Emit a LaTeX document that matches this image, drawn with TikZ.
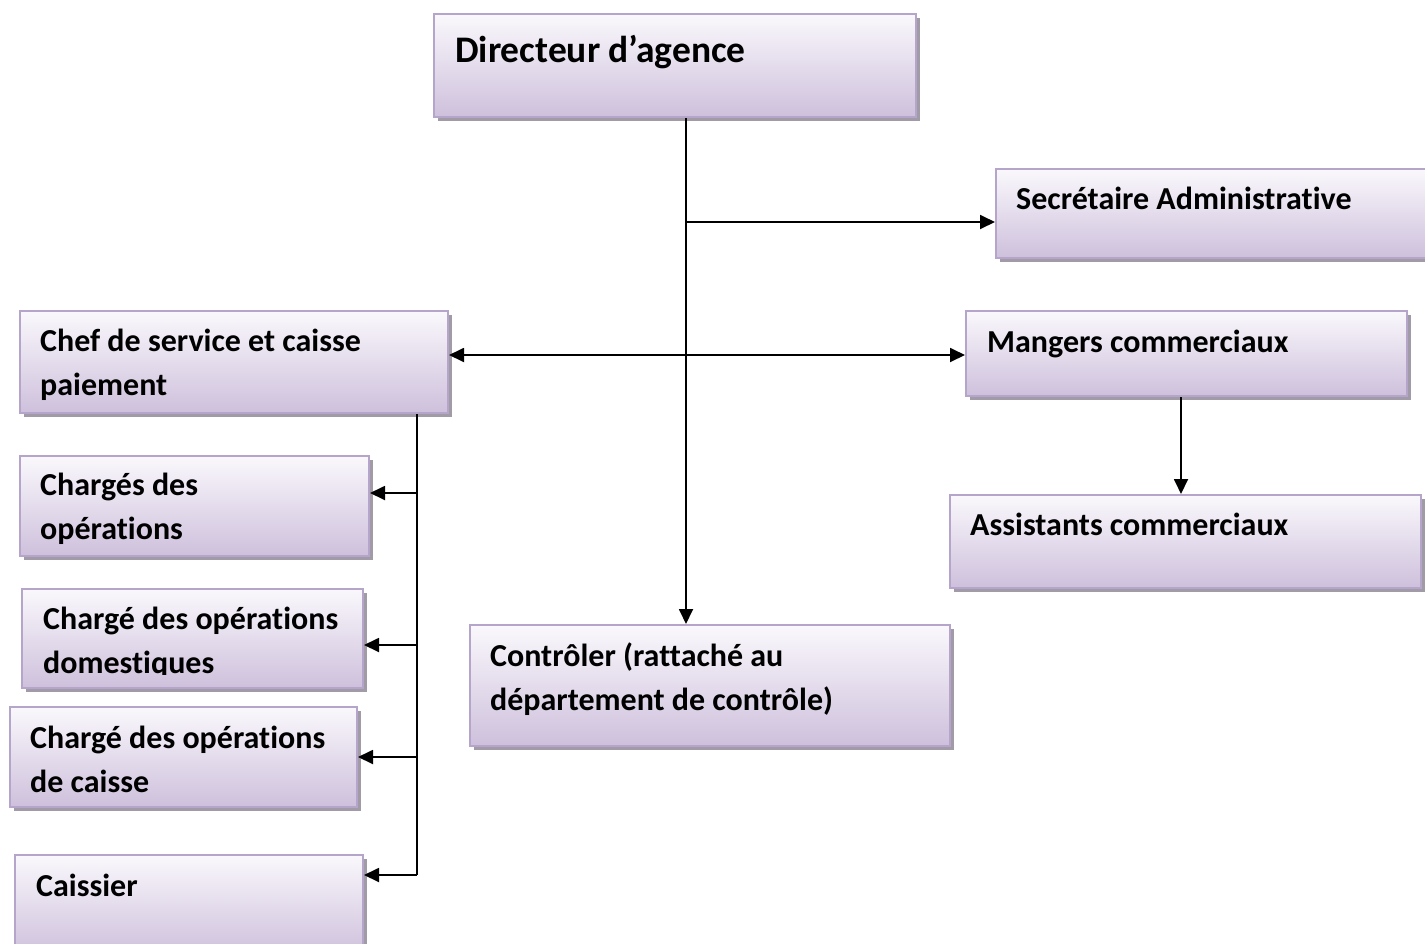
\documentclass[tikz,border=0pt]{standalone}
\usepackage{fontspec}
\setmainfont{Carlito}[Ligatures=NoCommon]
\usetikzlibrary{arrows.meta,shadows}
\definecolor{boxtop}{HTML}{FAF8FC}
\definecolor{boxbot}{HTML}{CEC0DC}
\definecolor{boxline}{HTML}{B5A5CB}
\definecolor{boxshade}{HTML}{A19BA8}
\tikzset{
  orgbox/.style={rectangle, anchor=north west, inner sep=0pt, draw=boxline, line width=2pt,
    top color=boxtop, bottom color=boxbot,
    drop shadow={shadow xshift=4pt, shadow yshift=-4pt, fill=boxshade, opacity=1}},
  % base anchor of a two-line label is the baseline of its last line
  lbl/.style={anchor=base west, inner sep=0pt, align=left,
    font=\bfseries\fontsize{32}{43.5}\selectfont},
  biglbl/.style={lbl, font=\bfseries\fontsize{37.5}{44}\selectfont},
  tip/.tip={Triangle[length=15pt,width=14pt]},
  link/.style={line width=1.8pt, -tip},
  plain/.style={line width=1.8pt},
}
\begin{document}
\begin{tikzpicture}[x=1pt,y=-1pt]
\useasboundingbox (0,0) rectangle (1425,943);

% boxes
\node[orgbox, minimum width=482pt, minimum height=103pt] (dir) at (433,13) {};
\node[orgbox, minimum width=436pt, minimum height=89pt]  (sec) at (995,168) {};
\node[orgbox, minimum width=441pt, minimum height=85pt]  (mgr) at (965,310) {};
\node[orgbox, minimum width=471pt, minimum height=93pt]  (ast) at (949,494) {};
\node[orgbox, minimum width=428pt, minimum height=102pt] (chef) at (19,310) {};
\node[orgbox, minimum width=349pt, minimum height=100pt] (ops) at (19,455) {};
\node[orgbox, minimum width=341pt, minimum height=99pt]  (dom) at (21,588) {};
\node[orgbox, minimum width=347pt, minimum height=100pt] (cai) at (9,706) {};
\node[orgbox, minimum width=348pt, minimum height=100pt] (cas) at (14,854) {};
\node[orgbox, minimum width=480pt, minimum height=121pt] (ctl) at (469,624) {};

% labels
\node[biglbl] (tdir) at (455,62) {Directeur d’agence};
\node[lbl] (tsec) at (1016,209) {Secrétaire Administrative};
\node[lbl] (tmgr) at (987,352) {Mangers commerciaux};
\node[lbl] (tast) at (970,535) {Assistants commerciaux};
\node[lbl] (tchef) at (40,395) {Chef de service et caisse\\paiement};
\node[lbl] (tops) at (40,539) {Chargés des\\opérations};
\begin{scope}
  \clip (21,588) rectangle (362,674);
  \node[lbl] (tdom) at (43,673) {Chargé des opérations\\domestiques};
\end{scope}
\node[lbl] (tcai) at (30,792) {Chargé des opérations\\de caisse};
\node[lbl] (tcas) at (36,896) {Caissier};
\node[lbl] (tctl) at (490,710) {Contrôler (rattaché au\\département de contrôle)};

% connector positions
\coordinate (tx) at (686,0);
\coordinate (lx) at (417,0);
\coordinate (mx) at (1181,0);
\coordinate (ysec) at (0,222);
\coordinate (ymid) at (0,355);
\coordinate (yops) at (0,493);
\coordinate (ydom) at (0,645);
\coordinate (ycai) at (0,757);
\coordinate (ycas) at (0,875);

% central line
\draw[link] (dir.south -| tx) -- (ctl.north -| tx);
\draw[link] (tx |- ysec) -- (sec.west |- ysec);
\draw[plain, tip-tip] (chef.east |- ymid) -- (mgr.west |- ymid);
\draw[link] (mgr.south -| mx) -- (ast.north -| mx);

% left branch
\draw[plain] (chef.south -| lx) -- (lx |- ycas);
\draw[link] (lx |- yops) -- (ops.east |- yops);
\draw[link] (lx |- ydom) -- (dom.east |- ydom);
\draw[link] (lx |- ycai) -- (cai.east |- ycai);
\draw[link] (lx |- ycas) -- (cas.east |- ycas);
\end{tikzpicture}
\end{document}
